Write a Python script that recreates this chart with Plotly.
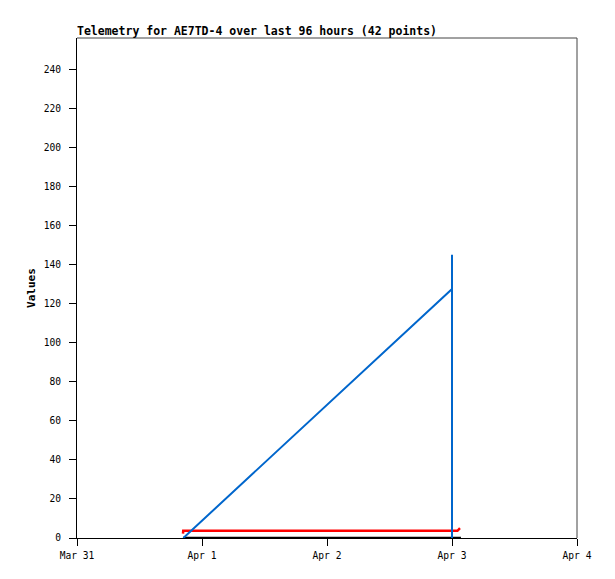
import plotly.graph_objects as go

title_text = "Telemetry for AE7TD-4 over last 96 hours (42 points)"

blue_times = ["2024-03-31 20:25", "2024-04-03 00:00", "2024-04-03 00:00", "2024-04-03 00:00"]
blue_values = [0, 127.5, 145, 0]

red_times = ["2024-03-31 20:21", "2024-03-31 20:24", "2024-04-03 01:03", "2024-04-03 01:32"]
red_values = [2.3, 3.7, 3.7, 5.0]

black_times = ["2024-03-31 20:21", "2024-04-03 01:43"]
black_values = [0, 0]

x_ticks = ["2024-03-31", "2024-04-01", "2024-04-02", "2024-04-03", "2024-04-04"]
x_tick_labels = ["Mar 31", "Apr 1", "Apr 2", "Apr 3", "Apr 4"]

mono = "DejaVu Sans Mono"

# page body has an 8px margin, so the figure is sized/offset to compensate
W, H = 607, 571

fig = go.Figure()
fig.add_trace(go.Scatter(x=black_times, y=black_values, mode="lines",
                         line=dict(color="#000000", width=2.5), showlegend=False))
fig.add_trace(go.Scatter(x=red_times, y=red_values, mode="lines",
                         line=dict(color="#ff0000", width=2.5), showlegend=False))
fig.add_trace(go.Scatter(x=blue_times, y=blue_values, mode="lines",
                         line=dict(color="#0066cc", width=2), showlegend=False))

# top and right frame edges in dark grey
fig.add_shape(type="line", xref="paper", yref="paper", x0=0, x1=1, y0=1, y1=1,
              line=dict(color="#444444", width=1))
fig.add_shape(type="line", xref="paper", yref="paper", x0=1, x1=1, y0=0, y1=1,
              line=dict(color="#444444", width=1))

fig.update_layout(
    width=W, height=H,
    margin=dict(l=69, r=38, t=30, b=41, autoexpand=False),
    paper_bgcolor="white", plot_bgcolor="white",
    font=dict(family=mono, size=10, color="black"),
    title=dict(text="<b>" + title_text + "</b>", x=69/W, xanchor="left",
               xref="container", y=1 - 23/H, yanchor="middle", yref="container",
               font=dict(family=mono, size=11.5, color="black")),
    xaxis=dict(range=["2024-03-31", "2024-04-04"], tickvals=x_ticks, ticktext=x_tick_labels,
               showgrid=False, zeroline=False, showline=True, mirror=False,
               linecolor="black", linewidth=1, ticks="outside", ticklen=7,
               tickcolor="black", tickfont=dict(family=mono, size=9.6),
               ticklabelstandoff=1),
    yaxis=dict(range=[0, 256], dtick=20, tick0=0,
               showgrid=False, zeroline=False, showline=True, mirror=False,
               linecolor="black", linewidth=1, ticks="outside", ticklen=7,
               tickcolor="black", tickfont=dict(family=mono, size=9.6),
               ticklabelstandoff=6,
               title=dict(text="<b>Values</b>", font=dict(family=mono, size=11), standoff=5)),
)

fig.write_html("out.html")
